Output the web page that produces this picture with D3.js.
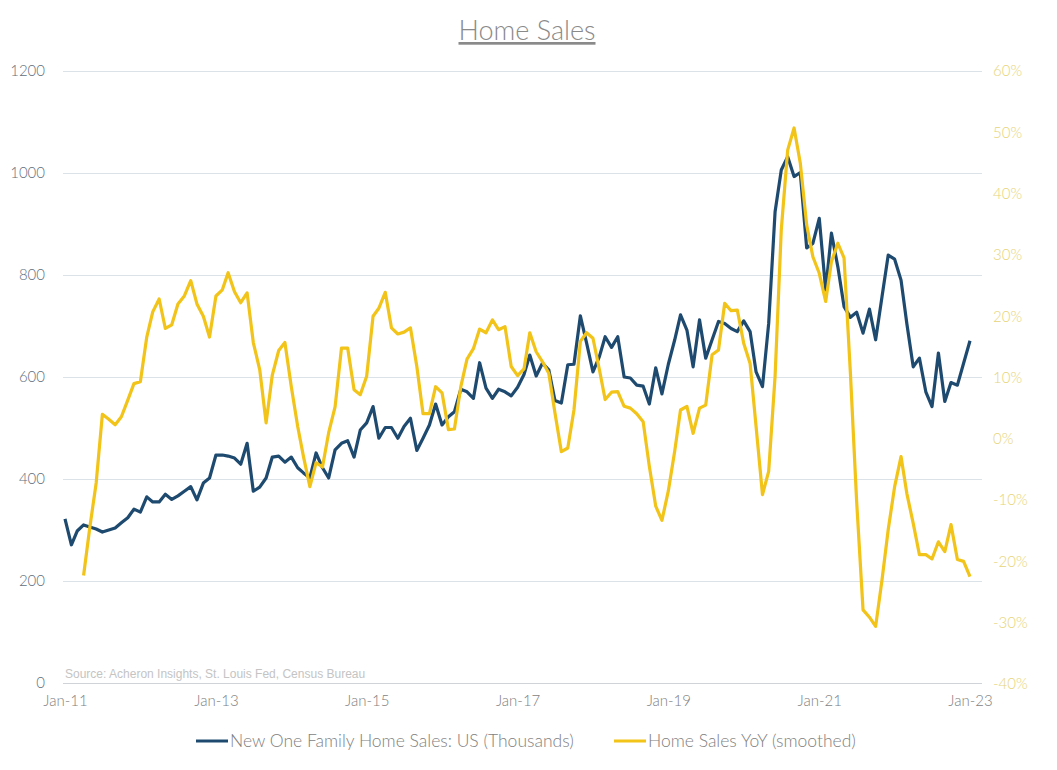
<!DOCTYPE html>
<html>
<head>
<meta charset="utf-8">
<script src="https://cdn.jsdelivr.net/npm/d3@7"></script>
<style>
  body { margin: 0; background: #fff; }
  svg { display: block; }
  .tick text { font-family: Lato, "Open Sans", sans-serif; font-weight: 300; }
</style>
</head>
<body>
<div id="chart"></div>
<script>
// monthly, Jan-11 .. Jan-23 (thousands, SAAR)
const salesStart = "2011-01";
const sales = [
  322, 271, 298, 310, 306, 302, 296, 300, 304, 314, 324, 341,
  335, 365, 355, 355, 370, 360, 367, 376, 385, 359, 392, 402,
  447, 447, 445, 441, 429, 470, 376, 384, 402, 443, 445, 433,
  443, 422, 412, 402, 451, 422, 402, 457, 470, 475, 443, 496,
  510, 542, 480, 501, 501, 480, 503, 519, 456, 480, 506, 547,
  506, 522, 532, 576, 571, 558, 628, 578, 558, 576, 571, 563,
  580, 605, 643, 602, 627, 614, 554, 549, 624, 625, 720, 667,
  610, 640, 679, 658, 679, 600, 598, 584, 582, 547, 618, 567,
  625, 673, 722, 692, 620, 712, 637, 673, 709, 705, 695, 689,
  710, 689, 610, 581, 705, 924, 1006, 1032, 993, 1001, 853, 862,
  911, 771, 882, 816, 738, 717, 727, 686, 733, 673, 758, 839,
  831, 790, 705, 620, 637, 571, 542, 647, 552, 589, 584, 627,
  671
];

// YoY smoothed, % (starts Apr-11)
const yoyStart = "2011-04";
const yoy = [
  -22.3, -14.5, -7.2, 4.0, 3.2, 2.3, 3.6, 6.3, 9.0,
  9.3, 16.6, 20.7, 22.8, 18.0, 18.6, 22.0, 23.3, 25.8, 22.0, 20.0, 16.6,
  23.3, 24.3, 27.1, 24.0, 22.2, 23.8, 15.7, 11.3, 2.6, 10.4, 14.4, 15.7,
  8.5, 2.0, -2.9, -7.8, -3.9, -4.6, 1.0, 5.2, 14.8, 14.8, 8.0, 7.2,
  10.2, 20.0, 21.3, 23.9, 18.1, 17.1, 17.4, 18.1, 11.8, 4.1, 4.1, 8.5,
  7.5, 1.5, 1.6, 8.5, 13.0, 14.7, 17.9, 17.3, 19.4, 17.8, 18.3, 11.8,
  10.3, 11.4, 17.3, 14.2, 12.6, 10.7, 4.2, -2.1, -1.5, 4.7, 15.9, 17.3,
  16.4, 11.3, 6.4, 7.6, 7.7, 5.3, 5.0, 4.1, 2.8, -4.5, -11.0, -13.3,
  -8.5, -2.0, 4.7, 5.3, 0.9, 5.0, 5.5, 13.7, 14.5, 22.1, 20.9, 21.0,
  15.6, 12.3, 2.0, -9.1, -5.3, 10.2, 34.1, 47.1, 50.7, 45.0, 34.9, 29.7,
  27.0, 22.4, 28.9, 31.9, 29.5, 10.6, -10.2, -27.9, -29.1, -30.6, -23.0, -14.8,
  -7.8, -2.9, -8.9, -13.8, -18.9, -18.9, -19.6, -16.8, -18.4, -14.0, -19.7, -20.0,
  -22.5
];

const leftTicks = [0, 200, 400, 600, 800, 1000, 1200];
const rightTicks = [-40, -30, -20, -10, 0, 10, 20, 30, 40, 50, 60];
const xTickYears = [2011, 2013, 2015, 2017, 2019, 2021, 2023];

const seriesNames = ["New One Family Home Sales: US (Thousands)", "Home Sales YoY (smoothed)"];
const colors = ["#1f4a70", "#f2c318"];

const W = 1057, H = 770;
const plot = {left: 63, right: 982, top: 71, bottom: 683};

const parseMonth = d3.timeParse("%Y-%m");
function monthly(startStr, vals) {
  const s = parseMonth(startStr);
  return vals.map((v, i) => ({date: d3.timeMonth.offset(s, i), value: v}));
}
const salesData = monthly(salesStart, sales);
const yoyData = monthly(yoyStart, yoy);

const svg = d3.select("#chart").append("svg")
  .attr("width", W)
  .attr("height", H);

const x = d3.scaleTime()
  .domain([new Date(2011, 0, 1), new Date(2023, 0, 1)])
  .range([65, 970]);

const yL = d3.scaleLinear().domain([0, 1200]).range([plot.bottom, plot.top]);
const yR = d3.scaleLinear().domain([-40, 60]).range([plot.bottom + 1, plot.top]);

// title
svg.append("text")
  .attr("x", 527)
  .attr("y", 40)
  .attr("text-anchor", "middle")
  .style("font-family", "Lato, sans-serif")
  .style("font-weight", 300)
  .style("font-size", "27px")
  .style("fill", "#8a8a8a")
  .style("text-decoration", "underline")
  .text("Home Sales");

// gridlines
svg.append("g")
  .selectAll("line")
  .data(leftTicks)
  .join("line")
  .attr("x1", plot.left)
  .attr("x2", plot.right)
  .attr("y1", d => yL(d) + 0.5)
  .attr("y2", d => yL(d) + 0.5)
  .style("stroke", d => d === 0 ? "#d0d4d8" : "#dbe3e8")
  .style("stroke-width", 1);

// left axis
const gL = svg.append("g")
  .attr("transform", `translate(${plot.left - 18}, 0)`)
  .call(d3.axisLeft(yL).tickValues(leftTicks).tickSize(0).tickPadding(0)
    .tickFormat(d3.format("d")));
gL.select(".domain").remove();
gL.selectAll("text").style("font-size", "15px").style("fill", "#5f6f7e");

// right axis
const gR = svg.append("g")
  .attr("transform", `translate(${plot.right + 11}, 0)`)
  .call(d3.axisRight(yR).tickValues(rightTicks).tickSize(0).tickPadding(0)
    .tickFormat(d => d + "%"));
gR.select(".domain").remove();
gR.selectAll("text").style("font-size", "15px").style("fill", "#e6d47a");

// bottom axis
const gX = svg.append("g")
  .attr("transform", `translate(0, ${plot.bottom + 12})`)
  .call(d3.axisBottom(x)
    .tickValues(xTickYears.map(yr => new Date(yr, 0, 1)))
    .tickFormat(d3.timeFormat("%b-%y"))
    .tickSize(0).tickPadding(0));
gX.select(".domain").remove();
gX.selectAll("text").style("font-size", "15px").style("fill", "#7f7f7f");

// source note
svg.append("text")
  .attr("x", 65)
  .attr("y", 678)
  .style("font-family", "'Liberation Sans', Arial, sans-serif")
  .style("font-size", "12px")
  .style("fill", "#c4c4c4")
  .text("Source: Acheron Insights, St. Louis Fed, Census Bureau");

// lines
const lineL = d3.line().x(d => x(d.date)).y(d => yL(d.value));
const lineR = d3.line().x(d => x(d.date)).y(d => yR(d.value));

svg.append("path")
  .datum(salesData)
  .attr("d", lineL)
  .style("fill", "none")
  .style("stroke", colors[0])
  .style("stroke-width", 3.2)
  .style("stroke-linejoin", "round");

svg.append("path")
  .datum(yoyData)
  .attr("d", lineR)
  .style("fill", "none")
  .style("stroke", colors[1])
  .style("stroke-width", 3.2)
  .style("stroke-linejoin", "round");

// legend
const legendX = [196, 614];
const lg = svg.append("g").attr("transform", "translate(0, 741)");
const items = lg.selectAll("g")
  .data(seriesNames)
  .join("g")
  .attr("transform", (d, i) => `translate(${legendX[i]}, 0)`);
items.append("line")
  .attr("x1", 0).attr("x2", 32)
  .attr("y1", 0).attr("y2", 0)
  .style("stroke", (d, i) => colors[i])
  .style("stroke-width", 3);
items.append("text")
  .attr("x", 34)
  .attr("y", 6)
  .style("font-family", "Lato, sans-serif")
  .style("font-weight", 300)
  .style("font-size", "17.5px")
  .style("fill", "#7f7f7f")
  .text(d => d);
</script>
</body>
</html>
